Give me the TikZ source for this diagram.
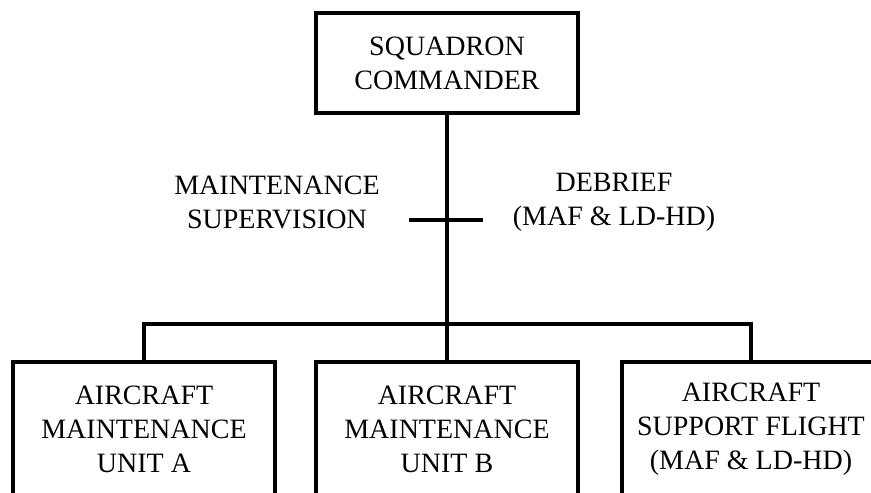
\documentclass[tikz,border=0pt]{standalone}
\usepackage{fontspec}
\setmainfont{Liberation Serif}
\usetikzlibrary{positioning}

\begin{document}
\begin{tikzpicture}[x=1pt, y=-1pt, line width=3.2pt,
  orgbox/.style={draw, rectangle, inner sep=0pt, align=center, minimum width=262pt, minimum height=100pt, font=\fontsize{28}{34}\selectfont},
  unitbox/.style={orgbox, minimum height=134pt},
  note/.style={inner sep=0pt, align=center, font=\fontsize{28}{34}\selectfont}]
  \useasboundingbox (0,0) rectangle (871,493);
  \clip (0,0) rectangle (871,493);

  % Commander
  \node[orgbox] (cmdr) at (447,63) {SQUADRON\\COMMANDER};

  % Units
  \node[unitbox] (ama) at (144,429) {AIRCRAFT\\MAINTENANCE\\UNIT A};
  \node[unitbox] (amb) at (447,429) {AIRCRAFT\\MAINTENANCE\\UNIT B};
  \node[unitbox, minimum width=258pt] (asf) at (751,429) {AIRCRAFT\\SUPPORT FLIGHT\\(MAF \& LD-HD)};

  % Side labels
  \node[note] (sup) at (277,202) {MAINTENANCE\\SUPERVISION};
  \node[note] (deb) at (614,202) {DEBRIEF\\(MAF \& LD-HD)};

  % Lines
  \coordinate (bar) at (447,324);
  \coordinate (tickl) at (409,220);
  \coordinate (tickr) at (483,220);
  \draw (cmdr.south) -- (amb.north);
  \draw (ama.north) |- (bar) -| (asf.north);
  \draw (tickl) -- (tickr);
\end{tikzpicture}
\end{document}
